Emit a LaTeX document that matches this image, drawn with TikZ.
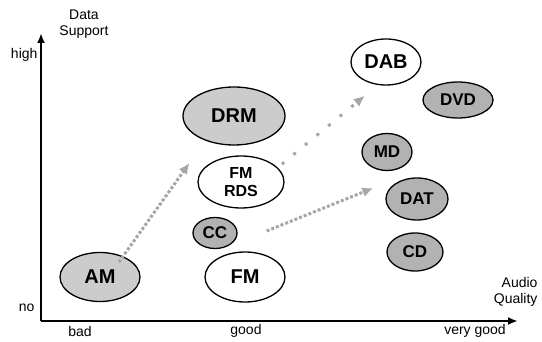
\documentclass[tikz,border=0pt]{standalone}
\usepackage{fontspec}
\setmainfont{Liberation Sans}
\usetikzlibrary{arrows.meta,shapes.geometric,calc}
\begin{document}
\begin{tikzpicture}[x=1pt,y=-1pt,
  ell/.style={draw=black,line width=1.3pt,ellipse,inner sep=0pt,
    minimum width=#1},
  light/.style={fill=gray!40},
  dark/.style={fill=gray!60},
  big/.style={font=\fontsize{20}{20}\selectfont\bfseries},
  mid/.style={font=\fontsize{17}{17}\selectfont\bfseries},
  small/.style={font=\fontsize{14}{16}\selectfont},
  axis/.style={line width=2.4pt,-{Latex[length=10pt,width=8pt]}},
  trend/.style={gray!70,line width=3pt,dotted,-{Latex[length=11pt,width=10pt]}}
]
\useasboundingbox (0,0) rectangle (542,342);
\coordinate (O) at (41,321);
\coordinate (Ytop) at (41,33);
\coordinate (Xend) at (518,321);
\draw[axis] (O) -- (Ytop);
\draw[axis] (O) -- (Xend);

\node[small,align=center] (ylab) at (84,24) {Data\\Support};
\node[small,anchor=east] (high) at (41,55) {high};
\node[small,anchor=east] (no) at (38,308) {no};
\node[small] (bad) at (80,331) {bad};
\node[small] (good) at (246,331) {good};
\node[small] (vgood) at (475,331) {very good};
\node[small,align=right,anchor=east] (xlab) at (541,292) {Audio\\Quality};

\node[ell=80pt,minimum height=49pt,light,big] (AM) at (100,277) {AM};
\node[ell=80pt,minimum height=50pt,big] (FM) at (245,277) {FM};
\node[ell=44pt,minimum height=31pt,dark,mid] (CC) at (215,233) {CC};
\node[ell=86pt,minimum height=52pt,font=\fontsize{16}{18}\selectfont\bfseries,align=center] (FMRDS) at (241,182) {FM\\RDS};
\node[ell=102pt,minimum height=58pt,light,big] (DRM) at (234,116) {DRM};
\node[ell=70pt,minimum height=46pt,big] (DAB) at (386,62) {DAB};
\node[ell=70pt,minimum height=36pt,dark,mid] (DVD) at (458,100) {DVD};
\node[ell=50pt,minimum height=37pt,dark,mid] (MD) at (387,152) {MD};
\node[ell=62pt,minimum height=42pt,dark,mid] (DAT) at (417,199) {DAT};
\node[ell=56pt,minimum height=38pt,dark,mid] (CD) at (415,252) {CD};

\draw[trend] ($(AM.north east)+(-10,3)$) -- ($(DRM.south west)+(-8,26)$);
\draw[trend,dash pattern=on 3pt off 12pt] ($(FMRDS.north east)+(10,1)$) -- ($(DAB.south west)+(4,17)$);
\draw[trend] ($(CC.east)+(29,-2)$) -- ($(DAT.west)+(-12,-11)$);
\end{tikzpicture}
\end{document}
